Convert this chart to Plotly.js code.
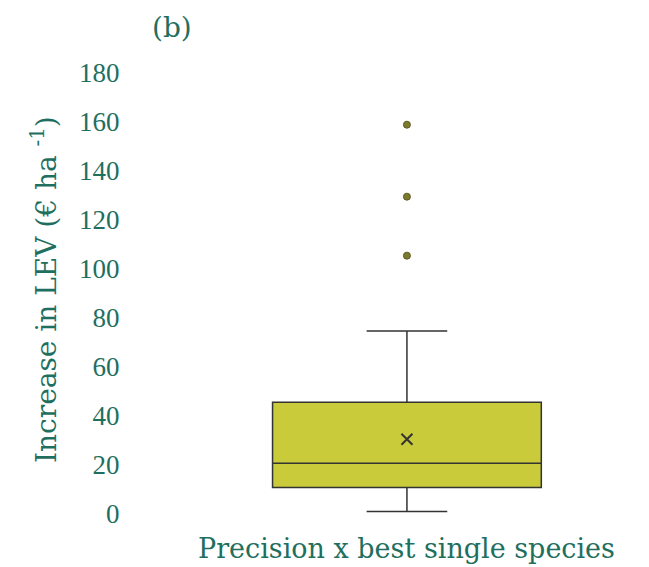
<!DOCTYPE html>
<html>
<head>
<meta charset="utf-8">
<script src="https://cdn.plot.ly/plotly-3.0.1.min.js"></script>
<style>html,body{margin:0;padding:0;background:#fff;}#chart{width:649px;height:567px;}</style>
</head>
<body>
<div id="chart"></div>
<script>
// ---- data ----
const category = ["Precision x best single species"];
const q1 = [10.6];
const median = [20.5];
const q3 = [45.4];
const lowerFence = [0.8];
const upperFence = [74.5];
const meanValue = [30.3];
const outliers = [105.3, 129.4, 158.8];
const yTicks = [0, 20, 40, 60, 80, 100, 120, 140, 160, 180];

const teal = "#1f6f5f";
const font = "Liberation Serif, Times New Roman, serif";
const wideFont = "DejaVu Serif, serif";

const traces = [
  {
    type: "box",
    x: category,
    q1: q1, median: median, q3: q3,
    lowerfence: lowerFence, upperfence: upperFence,
    fillcolor: "#c9cb3b",
    line: {color: "#333333", width: 1.5},
    width: 0.527,
    whiskerwidth: 0.30,
    boxpoints: false,
    hoverinfo: "skip",
    showlegend: false
  },
  {
    type: "scatter", mode: "markers",
    x: outliers.map(() => category[0]), y: outliers,
    marker: {color: "#7b7a2e", size: 7, line: {color: "#5c5c22", width: 1}},
    showlegend: false, hoverinfo: "skip"
  },
  {
    type: "scatter", mode: "markers",
    x: category, y: meanValue,
    marker: {symbol: "x-thin", size: 11, line: {color: "#333333", width: 2}},
    showlegend: false, hoverinfo: "skip"
  }
];

const layout = {
  width: 649, height: 567,
  margin: {l: 130, r: 9, t: 63.2, b: 34.4},
  paper_bgcolor: "#ffffff", plot_bgcolor: "#ffffff",
  font: {family: font, color: teal, size: 26},
  xaxis: {
    type: "category",
    range: [-0.543, 0.457],
    showgrid: false, zeroline: false, showline: false,
    showticklabels: false, ticks: ""
  },
  yaxis: {
    range: [-8, 184],
    tickvals: yTicks,
    ticktext: yTicks.map(String),
    showgrid: false, zeroline: false, showline: false,
    ticks: "outside", ticklen: 4, tickcolor: "rgba(0,0,0,0)",
    tickfont: {family: font, color: teal, size: 27}
  },
  annotations: [
    {
      text: category[0],
      xref: "paper", yref: "paper",
      x: 0.5412, y: -0.0329,
      xanchor: "center", yanchor: "middle",
      showarrow: false,
      font: {family: wideFont, color: teal, size: 27}
    },
    {
      text: "Increase in LEV (€ ha <sup>-1</sup>)",
      textangle: -90,
      xref: "paper", yref: "paper",
      x: -0.1686, y: 0.517,
      xanchor: "center", yanchor: "middle",
      showarrow: false,
      font: {family: wideFont, color: teal, size: 28}
    },
    {
      text: "(b)",
      xref: "paper", yref: "paper",
      x: 0.082, y: 1.075,
      xanchor: "center", yanchor: "middle",
      showarrow: false,
      font: {family: wideFont, color: teal, size: 28}
    }
  ]
};

Plotly.newPlot("chart", traces, layout, {displayModeBar: false, staticPlot: true});
</script>
</body>
</html>
